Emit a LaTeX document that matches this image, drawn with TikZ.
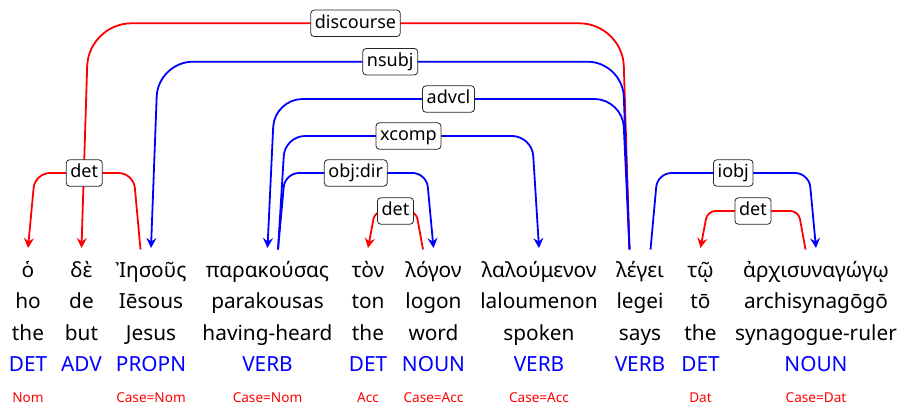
\documentclass[tikz,border=0pt]{standalone}
\usepackage{fontspec}
\setmainfont{Noto Sans}
\usetikzlibrary{arrows.meta,calc}

\tikzset{
  wordtext/.style={anchor=base, inner sep=0pt, font=\fontsize{20.8}{25}\selectfont},
  postag/.style={wordtext, text=blue},
  feat/.style={anchor=base, inner sep=0pt, text=red, font=\fontsize{13.6}{16}\selectfont},
  dep/.style={line width=1.8pt},
  tip/.style={-{Stealth[length=10pt,width=10pt,inset=3.5pt]}},
  deplab/.style={draw=black!85, line width=0.8pt, fill=white, rounded corners=3.5pt,
    inner xsep=4.2pt, inner ysep=4.5pt, text height=13.5pt, text depth=4pt,
    font=\fontsize{18}{21}\selectfont}
}

% one token column: id, x, form, transliteration, gloss, UPOS
\newcommand\tok[6]{%
  \node[wordtext] (g#1) at (#2,-277.5) {#3};
  \node[wordtext] (t#1) at (#2,-308.5) {#4};
  \node[wordtext] (e#1) at (#2,-340) {#5};
  \node[postag]   (p#1) at (#2,-371.5) {#6};
  \coordinate (in#1) at (#2,-248);
  \coordinate (L#1) at ({#2-10.5},-249.5);
  \coordinate (R#1) at ({#2+10.5},-249.5);
}

% dependency arc: colour, head point, dependent point, level, inward offset, radius, id
\newcommand\deparc[7]{%
  \draw[dep, tip, #1, rounded corners=#6pt] let \p1=(#2), \p2=(#3) in
    (#2) -- ({\x1+(#5pt)}, -#4pt) -- coordinate[midway] (m#7) ({\x2-(#5pt)}, -#4pt) -- (#3);
}

\begin{document}
\begin{tikzpicture}[x=1pt, y=1pt]
  \useasboundingbox (0,0) rectangle (900,-405);

  \tok{1}{28}{ὁ}{ho}{the}{DET}
  \tok{2}{81.5}{δὲ}{de}{but}{ADV}
  \tok{3}{151}{Ἰησοῦς}{Iēsous}{Jesus}{PROPN}
  \tok{4}{267.5}{παρακούσας}{parakousas}{having-heard}{VERB}
  \tok{5}{368}{τὸν}{ton}{the}{DET}
  \tok{6}{433.5}{λόγον}{logon}{word}{NOUN}
  \tok{7}{539}{λαλούμενον}{laloumenon}{spoken}{VERB}
  \tok{8}{640}{λέγει}{legei}{says}{VERB}
  \tok{9}{700.5}{τῷ}{tō}{the}{DET}
  \tok{10}{816}{ἀρχισυναγώγῳ}{archisynagōgō}{synagogue-ruler}{NOUN}

  % morphological features
  \node[feat] (c1)  at (28,-402.5)   {Nom};
  \node[feat] (c3)  at (151,-402.5)  {Case=Nom};
  \node[feat] (c4)  at (267.5,-402.5){Case=Nom};
  \node[feat] (c5)  at (368,-402.5)  {Acc};
  \node[feat] (c6)  at (433.5,-402.5){Case=Acc};
  \node[feat] (c7)  at (539,-402.5)  {Case=Acc};
  \node[feat] (c9)  at (700.5,-402.5){Dat};
  \node[feat] (c10) at (816,-402.5)  {Case=Dat};

  % arcs, outermost first
  \deparc{red}{L8}{in2}{23.3}{-7}{43}{disc}
  \deparc{blue}{L8}{in3}{61.7}{-7}{35}{nsubj}
  \deparc{blue}{L8}{in4}{99}{-7}{28}{advcl}
  \deparc{blue}{R4}{in7}{136}{7}{20}{xcomp}
  \deparc{blue}{R4}{in6}{173}{7}{14}{obj}
  \deparc{red}{L3}{in1}{173}{-7}{15}{detA}
  \deparc{blue}{R8}{in10}{173}{7}{14}{iobj}
  \deparc{red}{L6}{in5}{211}{-7}{8}{detB}
  \deparc{red}{L10}{in9}{211}{-7}{8}{detC}

  % relation labels
  \node[deplab] (ldisc)  at (mdisc)  {discourse};
  \node[deplab] (lnsubj) at (mnsubj) {nsubj};
  \node[deplab] (ladvcl) at (madvcl) {advcl};
  \node[deplab] (lxcomp) at (mxcomp) {xcomp};
  \node[deplab] (lobj)   at (mobj)   {obj:dir};
  \node[deplab] (ldetA)  at (mdetA)  {det};
  \node[deplab] (liobj)  at (miobj)  {iobj};
  \node[deplab] (ldetB)  at (mdetB)  {det};
  \node[deplab] (ldetC)  at (mdetC)  {det};
\end{tikzpicture}
\end{document}
